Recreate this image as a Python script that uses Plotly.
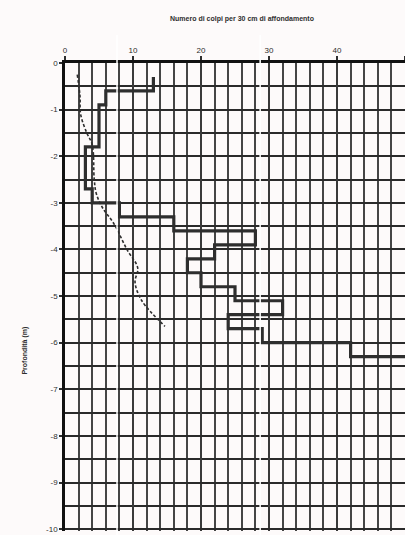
import plotly.graph_objects as go

# Dynamic penetration test: blows per 30 cm of penetration
depth_top = [0.3, 0.6, 0.9, 1.2, 1.5, 1.8, 2.1, 2.4, 2.7, 3.0, 3.3, 3.6, 3.9,
             4.2, 4.5, 4.8, 5.1, 5.4, 5.7, 6.0, 6.3]
blows = [13, 6, 5, 5, 5, 3, 3, 3, 4, 8, 16, 28, 22, 18, 20, 25, 32, 24, 29, 42, 55]
step = 0.3

# Trend line (dashed)
trend_depth = [0.25, 0.7, 1.1, 1.5, 1.75, 2.5, 2.8, 3.1, 3.45, 4.0, 4.4, 4.7, 5.1, 5.65]
trend_blows = [1.8, 2.2, 2.3, 3.2, 4.0, 4.3, 4.6, 5.5, 7.2, 9.1, 10.7, 10.3, 11.3, 14.7]

x_ticks = [0, 10, 20, 30, 40, 50]
y_ticks = [0, -1, -2, -3, -4, -5, -6, -7, -8, -9, -10]
y_labels = ["0", "-1", "-2", "-3", "-4", "-5", "-6", "-7", "-8", "-9", "-10"]

step_x = blows + [blows[-1]]
step_y = [-d for d in depth_top] + [-(depth_top[-1] + step)]

ink = "#2e2e2e"
font = "Liberation Sans, Arial, sans-serif"

fig = go.Figure()
fig.add_trace(go.Scatter(
    x=step_x, y=step_y, mode="lines", line_shape="vh",
    line=dict(color=ink, width=3.2), showlegend=False, hoverinfo="skip"))
fig.add_trace(go.Scatter(
    x=trend_blows, y=[-d for d in trend_depth], mode="lines",
    line=dict(color=ink, width=1.6, dash="3px,2px", shape="spline"),
    showlegend=False, hoverinfo="skip"))

# light seams across the grid sheet
for xp in (0.153, 0.574):
    fig.add_shape(type="line", xref="paper", yref="paper", x0=xp, x1=xp,
                  y0=-0.01, y1=1.06, line=dict(color="#ffffff", width=1.5),
                  layer="above")

fig.update_layout(
    width=405, height=535,
    margin=dict(l=65, r=0, t=63, b=4),
    paper_bgcolor="#fdfafa", plot_bgcolor="#fdfafa",
    font=dict(family=font, color=ink, size=8),
    xaxis=dict(
        side="top", range=[0, 50], tickvals=x_ticks,
        ticks="outside", ticklen=4, tickwidth=1.5, tickcolor=ink,
        showgrid=True, gridcolor="#3a3a3a", gridwidth=2,
        minor=dict(dtick=2, showgrid=True, gridcolor="#454545", gridwidth=2),
        showline=True, linecolor="#111", linewidth=2.5,
        zeroline=False, tickfont=dict(size=8, color=ink)),
    yaxis=dict(
        range=[-10.04, 0], tickvals=y_ticks, ticktext=y_labels,
        ticks="outside", ticklen=3, tickwidth=1.5, tickcolor=ink,
        showgrid=True, gridcolor="#2a2a2a", gridwidth=2,
        minor=dict(dtick=0.5, showgrid=True, gridcolor="#2a2a2a", gridwidth=2),
        showline=True, linecolor="#111", linewidth=2.5,
        zeroline=False, tickfont=dict(size=8, color=ink)),
    annotations=[
        dict(text="<b>Numero di colpi per 30 cm di affondamento</b>",
             xref="paper", yref="paper", x=0.52, y=1.0, yshift=50,
             showarrow=False, font=dict(size=7, color=ink)),
        dict(text="<b>Profondità (m)</b>", textangle=-90,
             xref="paper", yref="paper", x=0, xshift=-46, y=0.33,
             showarrow=False, font=dict(size=7, color=ink)),
    ],
)

fig.write_html("out.html")
